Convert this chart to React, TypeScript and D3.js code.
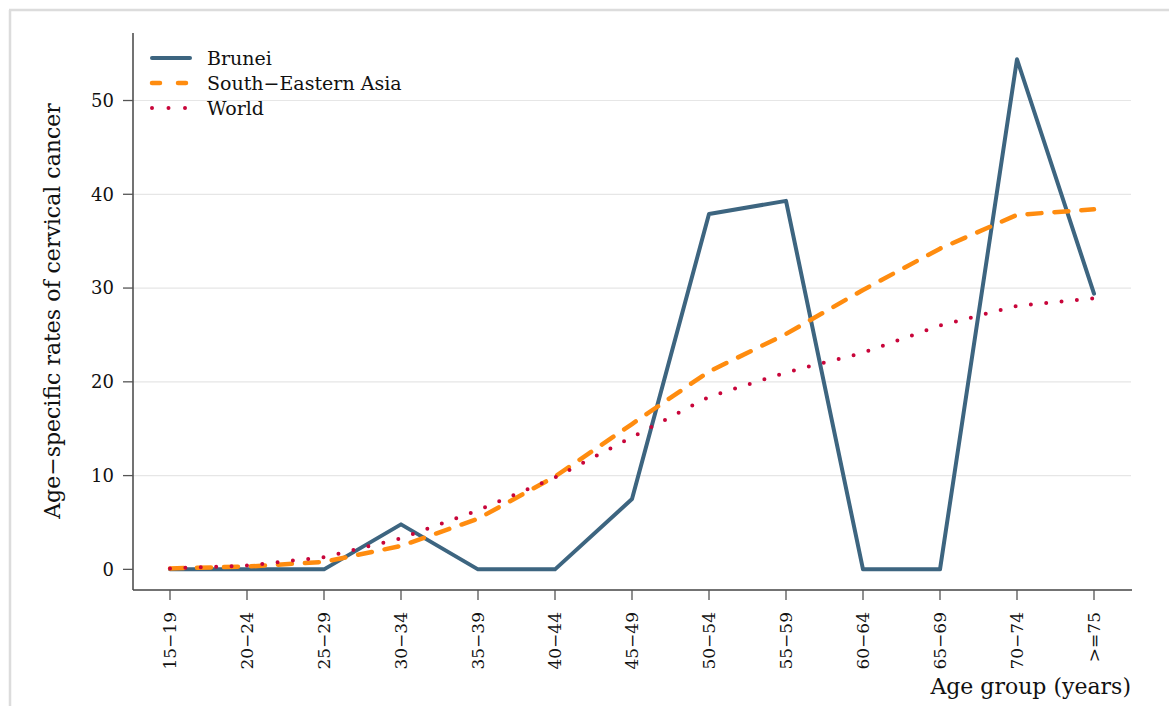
import React from "react";
import * as d3 from "d3";

const categories = ["15−19","20−24","25−29","30−34","35−39","40−44","45−49","50−54","55−59","60−64","65−69","70−74",">=75"];
const brunei = [0,0,0,4.8,0,0,7.5,37.9,39.3,0,0,54.4,29.4];
const seAsia = [0.1,0.3,0.8,2.5,5.4,9.9,15.5,21.1,25.1,29.8,34.2,37.8,38.4];
const world = [0.1,0.4,1.3,3.3,6.3,9.8,14.1,18.4,21.0,23.1,26.0,28.1,28.9];
const yTicks = [0,10,20,30,40,50];
const seriesNames = ["Brunei","South−Eastern Asia","World"];

const FONT = "'DejaVu Serif', serif";

export default function App() {
  const W = 1169, H = 706;
  const x = d3.scalePoint<string>().domain(categories).range([170, 1094]);
  const y = d3.scaleLinear().domain([-2.2, 57.2]).range([590, 33]);
  const line = (vals: number[]) =>
    d3.line<number>().x((_, i) => x(categories[i]) as number).y(d => y(d))(vals) as string;

  const styles = [
    { color: "#3d6580", dash: undefined as string | undefined, cap: "round" as const, w: 4 },
    { color: "#ff8c0f", dash: "14 13", cap: "round" as const, w: 4.5 },
    { color: "#c8053a", dash: "0 15.4", cap: "round" as const, w: 4 },
  ];
  const data = [brunei, seAsia, world];

  return (
    <svg width={W} height={H} style={{ position: "absolute", left: 0, top: 0, background: "#fff" }}>
      <rect x={0} y={0} width={W} height={H} fill="#fff" />
      <line x1={9} y1={10} x2={W} y2={10} stroke="#dcdcdc" strokeWidth={2.5} />
      <line x1={10} y1={10} x2={10} y2={H} stroke="#dcdcdc" strokeWidth={2.5} />
      {yTicks.filter(t => t > 0).map(t => (
        <line key={t} x1={133} x2={1131} y1={y(t)} y2={y(t)} stroke="#e6e6e6" strokeWidth={1.2} />
      ))}
      {/* axes */}
      <line x1={133} x2={133} y1={33} y2={590} stroke="#444" strokeWidth={1.5} />
      <line x1={133} x2={1132} y1={590} y2={590} stroke="#444" strokeWidth={1.5} />
      {yTicks.map(t => (
        <g key={t}>
          <line x1={123} x2={133} y1={y(t)} y2={y(t)} stroke="#555" strokeWidth={1.3} />
          <text x={114} y={y(t)} dy="0.35em" textAnchor="end" fontFamily={FONT} fontSize={18} fill="#111">{t}</text>
        </g>
      ))}
      {categories.map(c => (
        <g key={c}>
          <line x1={x(c)} x2={x(c)} y1={590} y2={600} stroke="#555" strokeWidth={1.3} />
          <text transform={`translate(${(x(c) as number)},612) rotate(-90)`} dy="0.35em" textAnchor="end" fontFamily={FONT} fontSize={17} fill="#111">{c}</text>
        </g>
      ))}
      <text transform="translate(60,311) rotate(-90)" textAnchor="middle" fontFamily={FONT} fontSize={22} fill="#111">Age−specific rates of cervical cancer</text>
      <text x={1131} y={694} textAnchor="end" fontFamily={FONT} fontSize={22} fill="#111">Age group (years)</text>
      {/* series */}
      {data.map((d, i) => (
        <path key={i} d={line(d)} fill="none" stroke={styles[i].color} strokeWidth={styles[i].w}
          strokeDasharray={styles[i].dash} strokeLinecap={styles[i].cap} strokeLinejoin="round" />
      ))}
      {/* legend */}
      {seriesNames.map((n, i) => {
        const ly = 58 + i * 25;
        return (
          <g key={n}>
            <line x1={152} x2={190} y1={ly} y2={ly} stroke={styles[i].color} strokeWidth={styles[i].w}
              strokeDasharray={i === 1 ? "8 18" : i === 2 ? "0 16.5" : undefined} strokeLinecap="round" />
            <text x={207} y={ly} dy="0.35em" fontFamily={FONT} fontSize={19} fill="#111">{n}</text>
          </g>
        );
      })}
    </svg>
  );
}
